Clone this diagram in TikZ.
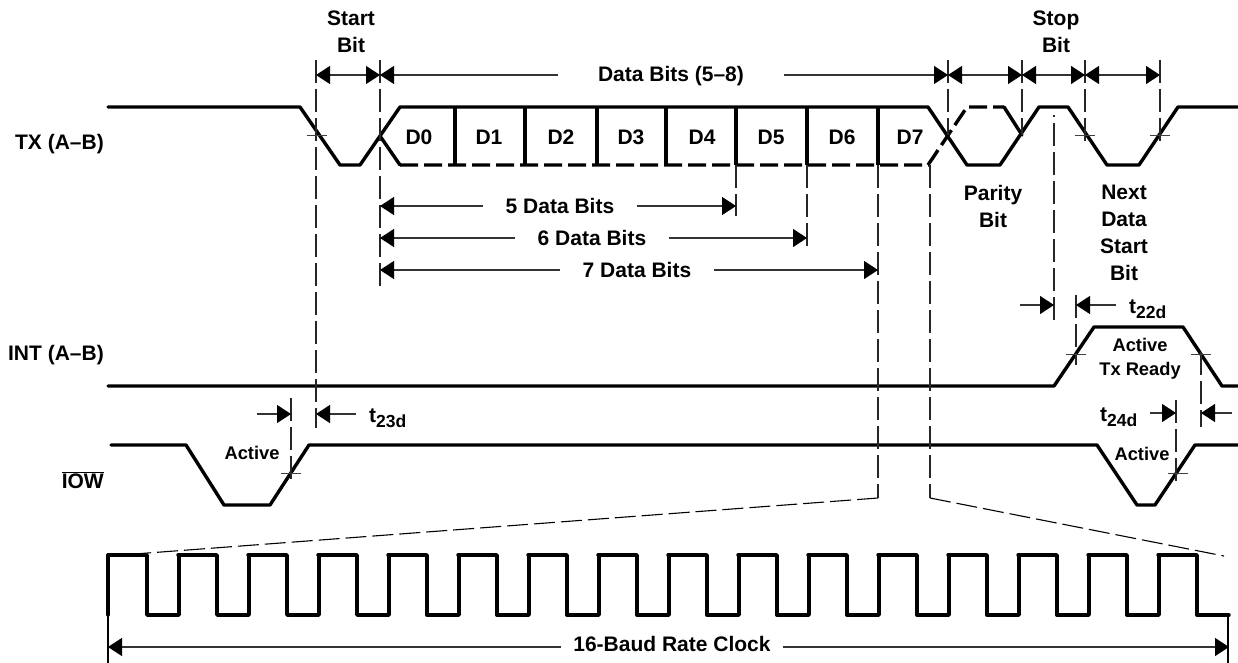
\documentclass[tikz,border=0pt]{standalone}
\usepackage{fontspec}
\setmainfont{Liberation Sans}
\usetikzlibrary{arrows.meta}
\newcommand{\tsub}[2]{#1\raisebox{-5pt}{\fontsize{17.5}{17.5}\selectfont #2}}
\tikzstyle{txt} = [font=\fontsize{21}{27}\selectfont\bfseries, align=center, inner sep=0pt]
\tikzstyle{smalltxt} = [font=\fontsize{18.3}{24}\selectfont\bfseries, align=center, inner sep=0pt]
\tikzstyle{signal} = [line width=3.4pt, line join=round, line cap=round]
\tikzstyle{dsignal} = [line width=3.4pt, dash pattern=on 18pt off 6pt]
\tikzstyle{guide} = [line width=1.1pt, black!85, dash pattern=on 23pt off 6pt]
\tikzstyle{zoomline} = [line width=1.1pt, dash pattern=on 21pt off 6pt]
\tikzstyle{crossmark} = [line width=0.9pt, black!75]
\tikzstyle{dim} = [line width=1.2pt, black!80]
\tikzstyle{arrow} = [dim, -{Triangle[length=14pt,width=18pt,color=black]}]
\tikzstyle{both} = [dim, {Triangle[length=14pt,width=18pt,color=black]}-{Triangle[length=14pt,width=18pt,color=black]}]

\begin{document}
\begin{tikzpicture}[x=1pt, y=-1pt]
\useasboundingbox (0,0) rectangle (1238,663);

% signal names
\node (txname) [txt, anchor=east] at (104,144) {TX (A--B)};
\node (intname) [txt, anchor=east] at (104,355) {INT (A--B)};
\node (iowname) [txt, anchor=east] at (104,480) {$\overline{\mbox{IOW}}$};

% TX
\draw [signal] (108,107) -- (300,107) -- (340,165) -- (360,165) -- (400,107) -- (928,107) -- (967,165) -- (1000,165) -- (1039,107) -- (1068,107) -- (1107,165) -- (1139,165) -- (1178,107) -- (1238,107);
\draw [signal] (380,136) -- (400,165);
\draw [dsignal] (400,165) -- (928,165) -- (967,107) -- (1004,107);
\draw [signal] (1004,107) -- (1022,135);
\foreach \x in {455,525,597,666,736,807,878}
  \draw [line width=3.2pt] (\x,107) -- (\x,165);
\foreach \n/\x in {0/419,1/489,2/561,3/631,4/702,5/771,6/842,7/910}
  \node (d\n) [txt] at (\x,137) {D\n};

% INT
\draw [signal] (108,386) -- (1054,386) -- (1094,327) -- (1183,327) -- (1222,386) -- (1238,386);

% IOW
\draw [signal] (111,445) -- (186,445) -- (224,505) -- (270,505) -- (309,445) -- (1097,445) -- (1137,505) -- (1155,505) -- (1195,445) -- (1238,445);

% clock
\draw [signal] (108,615) -- (108,555);
\foreach \x [evaluate=\x as \f using int(\x+39), evaluate=\x as \r using int(\x+71)] in {108,178,248,318,388,458,528,598,668,738,808,878,948,1018,1088}
  \draw [signal] (\x,555) -- (\f,555) -- (\f,615) -- (\r,615) -- (\r,555);
\draw [signal] (1158,555) -- (1197,555) -- (1197,615) -- (1229,615);

% guide lines
\draw [guide] (316,60) -- (316,428);
\draw [guide] (380,60) -- (380,288);
\draw [guide] (736,165) -- (736,216);
\draw [guide] (807,165) -- (807,252);
\draw [guide] (878,165) -- (878,498);
\draw [guide] (930,165) -- (930,498);
\draw [guide] (948,60) -- (948,135);
\draw [guide] (1022,60) -- (1022,135);
\draw [guide] (1085,60) -- (1085,145);
\draw [guide] (1160,60) -- (1160,145);
\draw [guide] (1054,320) -- (1054,115);
\draw [guide] (1076,295) -- (1076,365);
\draw [guide] (1201,352) -- (1201,427);
\draw [guide] (1176,400) -- (1176,482);
\draw [guide] (291,398) -- (291,482);
\draw [zoomline] (878,498) -- (108,556);
\draw [zoomline] (930,498) -- (1224,556);
\draw [line width=1.1pt] (108,615) -- (108,663);
\draw [line width=1.1pt] (1228,615) -- (1228,663);

% crossings
\foreach \x/\y in {317/135,1085/135,1160/135,1076/354,1201/354,1178/473,291/473}
  \draw [crossmark] (\x-10,\y) -- (\x+10,\y);

% top measures
\coordinate (sbl) at (316,75);
\coordinate (sbr) at (380,75);
\coordinate (pl) at (948,75);
\coordinate (pr) at (1022,75);
\coordinate (stopr) at (1085,75);
\coordinate (nextr) at (1160,75);
\node (startbit) [txt] at (351,32) {Start\\Bit};
\node (stopbit) [txt] at (1056,32) {Stop\\Bit};
\node (databits) [txt, inner xsep=40pt] at (671,76) {Data Bits (5--8)};
\draw [both] (sbl) -- (sbr);
\draw [arrow] (databits.west |- sbr) -- (sbr);
\draw [arrow] (databits.east |- pl) -- (pl);
\draw [both] (pl) -- (pr);
\draw [both] (pr) -- (stopr);
\draw [both] (stopr) -- (nextr);

% data bit counts
\coordinate (b5l) at (380,206);
\coordinate (b5r) at (736,206);
\coordinate (b6l) at (380,238);
\coordinate (b6r) at (807,238);
\coordinate (b7l) at (380,270);
\coordinate (b7r) at (878,270);
\node (five) [txt, inner xsep=23pt] at (560,206) {5 Data Bits};
\node (six) [txt, inner xsep=23pt] at (592,238) {6 Data Bits};
\node (seven) [txt, inner xsep=23pt] at (637,270) {7 Data Bits};
\draw [arrow] (five) -- (b5l);
\draw [arrow] (five) -- (b5r);
\draw [arrow] (six) -- (b6l);
\draw [arrow] (six) -- (b6r);
\draw [arrow] (seven) -- (b7l);
\draw [arrow] (seven) -- (b7r);

% other labels
\node (parity) [txt] at (993,206) {Parity\\Bit};
\node (nextstart) [txt] at (1124,233) {Next\\Data\\Start\\Bit};
\node (activetx) [smalltxt] at (1140,359) {Active\\Tx Ready};
\node (activel) [smalltxt] at (252,453) {Active};
\node (activer) [smalltxt] at (1142,454) {Active};

% delays
\coordinate (t22a) at (1020,305);
\coordinate (t22b) at (1054,305);
\coordinate (t22c) at (1116,305);
\coordinate (t22e) at (1076,305);
\coordinate (t24a) at (1150,413);
\coordinate (t24b) at (1176,413);
\coordinate (t24c) at (1232,413);
\coordinate (t24e) at (1201,413);
\coordinate (t23a) at (257,414);
\coordinate (t23b) at (291,414);
\coordinate (t23c) at (356,414);
\coordinate (t23e) at (316,414);
\draw [arrow] (t22a) -- (t22b);
\draw [arrow] (t22c) -- (t22e);
\draw [arrow] (t24a) -- (t24b);
\draw [arrow] (t24c) -- (t24e);
\draw [arrow] (t23a) -- (t23b);
\draw [arrow] (t23c) -- (t23e);
\node (t22) [txt, anchor=west] at (1129,309) {\tsub{t}{22d}};
\node (t24) [txt, anchor=west] at (1100,417) {\tsub{t}{24d}};
\node (t23) [txt, anchor=west] at (369,418) {\tsub{t}{23d}};

% baud clock
\coordinate (clkl) at (108,647);
\coordinate (clkr) at (1229,647);
\node (clock) [txt, inner xsep=12pt] at (672,644) {16-Baud Rate Clock};
\draw [arrow] (clock.west |- clkl) -- (clkl);
\draw [arrow] (clock.east |- clkr) -- (clkr);

\end{tikzpicture}
\end{document}
